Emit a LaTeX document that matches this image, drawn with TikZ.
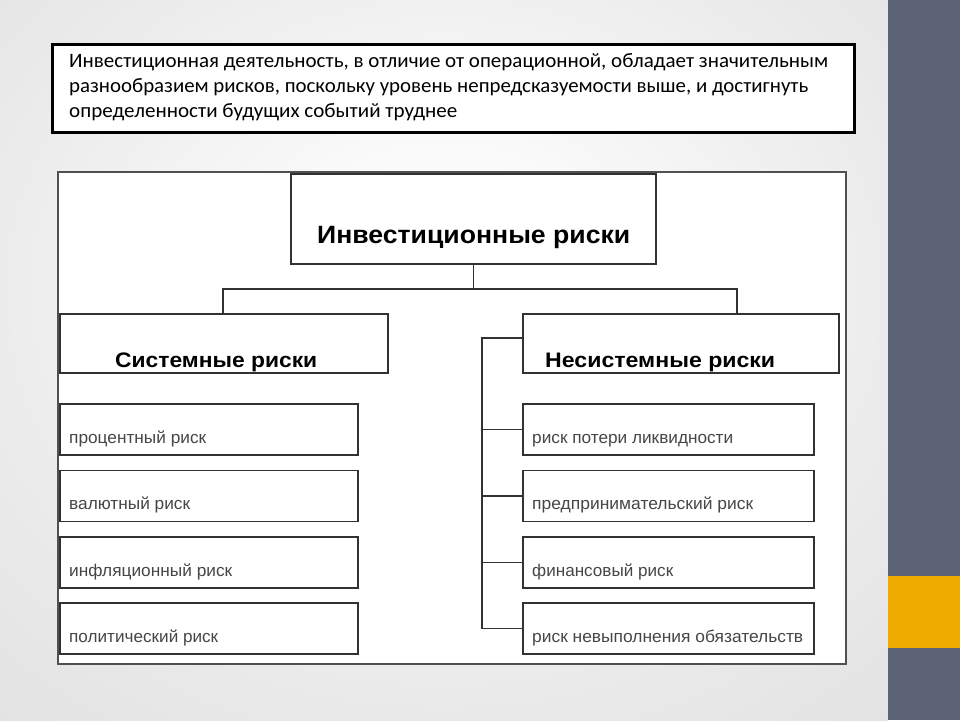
\documentclass[tikz,border=0pt]{standalone}
\usepackage{fontspec}
\setmainfont{Carlito}
\newfontfamily\arialf{Liberation Sans}
\usepackage{graphicx}
\definecolor{slate}{RGB}{92,99,119}
\definecolor{accent}{RGB}{240,171,0}
\definecolor{boxline}{RGB}{50,50,50}
\definecolor{frameline}{RGB}{80,80,80}
\definecolor{smalltext}{RGB}{70,70,70}
\definecolor{bgedge}{RGB}{214,214,214}
\definecolor{bgmid}{RGB}{232,232,232}
\definecolor{bgin}{RGB}{250,250,250}
\pgfdeclareradialshading{bgshade}{\pgfpoint{0bp}{8bp}}{color(0bp)=(white); color(8bp)=(bgin); color(30bp)=(bgmid); color(58bp)=(bgedge)}
\newcommand{\fitw}[2]{\resizebox{#1pt}{\height}{#2}}
\begin{document}
\begin{tikzpicture}[x=1pt,y=-1pt,
  rbox/.style={draw=boxline, line width=1.8pt, fill=white, anchor=north west, inner sep=0pt},
  conn/.style={draw=boxline, line width=1.8pt},
  bigtxt/.style={anchor=base west, inner sep=0pt, font=\arialf\bfseries\fontsize{25}{28}\selectfont},
  midtxt/.style={anchor=base west, inner sep=0pt, font=\arialf\bfseries\fontsize{21}{24}\selectfont},
  smtxt/.style={anchor=base west, inner sep=0pt, text=smalltext, font=\arialf\fontsize{17}{20}\selectfont},
  toptxt/.style={anchor=base west, inner sep=0pt, font=\fontsize{20.5}{24}\selectfont}]
\useasboundingbox (0,0) rectangle (960,720);
\shade[shading=bgshade] (0,0) rectangle (888,720);
\fill[slate] (888,0) rectangle (960,720);
\fill[accent] (888,576) rectangle (960,648);

% top text box
\node[draw=black, line width=2.8pt, fill=white, anchor=north west, minimum width=802, minimum height=88, inner sep=0pt] (intro) at (51,43) {};
\node[toptxt] (l1) at (69,67) {\fitw{759}{Инвестиционная деятельность, в отличие от операционной, обладает значительным}};
\node[toptxt] (l2) at (69,92) {\fitw{739}{разнообразием рисков, поскольку уровень непредсказуемости выше, и достигнуть}};
\node[toptxt] (l3) at (69,117) {\fitw{388}{определенности будущих событий труднее}};

% diagram frame
\node[draw=frameline, line width=1.6pt, fill=white, anchor=north west, minimum width=788, minimum height=492, inner sep=0pt] (frame) at (57,171) {};

% boxes
\node[rbox, minimum width=365, minimum height=90] (inv) at (290,173) {};
\node[rbox, minimum width=328, minimum height=59] (sys) at (59,313) {};
\node[rbox, minimum width=316, minimum height=59] (nsys) at (522,313) {};

\node[rbox, minimum width=298, minimum height=51] (a1) at (59,403) {};
\node[rbox, minimum width=298, minimum height=51] (a2) at (59,469.5) {};
\node[rbox, minimum width=298, minimum height=51] (a3) at (59,536) {};
\node[rbox, minimum width=298, minimum height=51] (a4) at (59,602) {};

\node[rbox, minimum width=291, minimum height=51] (b1) at (522,403) {};
\node[rbox, minimum width=291, minimum height=51] (b2) at (522,469.5) {};
\node[rbox, minimum width=291, minimum height=51] (b3) at (522,536) {};
\node[rbox, minimum width=291, minimum height=51] (b4) at (522,602) {};

% texts
\node[bigtxt] (tinv) at (317,243) {\fitw{313}{Инвестиционные риски}};
\node[midtxt] (tsys) at (115,367) {\fitw{202}{Системные риски}};
\node[midtxt] (tnsys) at (545,367) {\fitw{230}{Несистемные риски}};

\node[smtxt] (ta1) at (69,443) {\fitw{137}{процентный риск}};
\node[smtxt] (ta2) at (69,509.5) {\fitw{121}{валютный риск}};
\node[smtxt] (ta3) at (69,576) {\fitw{163}{инфляционный риск}};
\node[smtxt] (ta4) at (69,642) {\fitw{149}{политический риск}};

\node[smtxt] (tb1) at (532,443) {\fitw{201}{риск потери ликвидности}};
\node[smtxt] (tb2) at (532,509.5) {\fitw{221}{предпринимательский риск}};
\node[smtxt] (tb3) at (532,576) {\fitw{141}{финансовый риск}};
\node[smtxt] (tb4) at (532,642) {\fitw{271}{риск невыполнения обязательств}};

% connectors
\coordinate (busL) at (223,289);
\coordinate (busR) at (737,289);
\coordinate (spine) at (482,338);
\draw[conn] (inv.south) -- (inv.south |- busL);
\draw[conn] (sys.north -| busL) -- (busL) -- (busR) -- (nsys.north -| busR);
\draw[conn] (nsys.west |- spine) -- (spine) -- (spine |- b4.west) -- (b4.west);
\draw[conn] (spine |- b1.west) -- (b1.west);
\draw[conn] (spine |- b2.west) -- (b2.west);
\draw[conn] (spine |- b3.west) -- (b3.west);
\end{tikzpicture}
\end{document}
